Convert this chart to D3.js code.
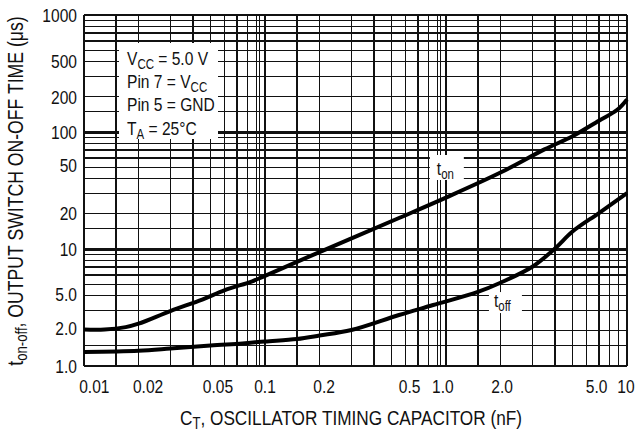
<!DOCTYPE html>
<html>
<head>
<meta charset="utf-8">
<script src="https://cdn.jsdelivr.net/npm/d3@7"></script>
<style>
  body { margin: 0; background: #fff; }
  text { font-family: "Liberation Sans", Arial, sans-serif; fill: #111; }
</style>
</head>
<body>
<svg id="chart" width="641" height="432"></svg>
<script>
// t_on curve (CT in nF, time in us)
const capOn = [0.01, 0.013, 0.017, 0.02, 0.03, 0.045, 0.06, 0.085, 0.1, 0.2, 0.55, 1.0, 2.0, 3.5, 5.0, 7.0, 8.8, 10];
const tOn = [2.05, 2.05, 2.15, 2.3, 2.95, 3.7, 4.45, 5.3, 5.9, 9.4, 18.4, 27.5, 45, 71, 92, 125, 154, 190];
// t_off curve
const capOff = [0.01, 0.02, 0.03, 0.05, 0.075, 0.1, 0.15, 0.2, 0.3, 0.55, 0.85, 1.5, 2.0, 3.0, 4.0, 5.0, 7.0, 10];
const tOff = [1.32, 1.35, 1.41, 1.5, 1.56, 1.62, 1.7, 1.82, 2.03, 2.73, 3.32, 4.3, 5.15, 7.05, 10.1, 14.1, 20.3, 30];

// tick labels and where they sit on the printed grid
const xTickLabels = ["0.01", "0.02", "0.05", "0.1", "0.2", "0.5", "1.0", "2.0", "5.0", "10"];
const xTickAt = [0.0114, 0.0226, 0.055, 0.1, 0.212, 0.63, 0.96, 2.04, 6.8, 9.87];
const yTickLabels = ["1000", "500", "200", "100", "50", "20", "10", "5.0", "2.0", "1.0"];
const yTickAt = [1000, 404, 199, 100, 52, 20.3, 10, 4.12, 2.09, 1];

const gridSteps = [1, 1.5, 2, 3, 4, 5, 6, 7, 8, 9];
const xDecades = [0.01, 0.1, 1];
const yDecades = [1, 10, 100];
const xDoubled = [0.093, 0.93];
const yDoubled = [9.8, 97];

const narrow = 0.82; // squeeze Liberation Sans to look like the condensed face

const svg = d3.select('#chart');

const x = d3.scaleLog().domain([0.01, 10]).range([84, 627]);
const y = d3.scaleLog().domain([1, 1000]).range([366, 15]);

const xGrid = xDecades.flatMap(d => gridSteps.map(s => d * s)).concat([10], xDoubled);
const yGrid = yDecades.flatMap(d => gridSteps.map(s => d * s)).concat([1000], yDoubled);

const grid = svg.append('g')
    .attr('stroke', '#111')
    .attr('stroke-width', 1.3)
    .attr('shape-rendering', 'crispEdges');
grid.selectAll('line.v').data(xGrid).join('line')
    .attr('class', 'v')
    .attr('x1', d => x(d)).attr('x2', d => x(d))
    .attr('y1', y(1000)).attr('y2', y(1));
grid.selectAll('line.h').data(yGrid).join('line')
    .attr('class', 'h')
    .attr('x1', x(0.01)).attr('x2', x(10))
    .attr('y1', d => y(d)).attr('y2', d => y(d));

// conditions box
svg.append('rect')
    .attr('x', 119).attr('y', 43)
    .attr('width', 99).attr('height', 96)
    .attr('fill', '#fff');

function subText(g, px, py, parts, size, anchor) {
    const t = g.append('text')
        .attr('transform', `translate(${px},${py}) scale(${narrow},1)`)
        .attr('text-anchor', anchor || 'start')
        .style('font-size', size + 'px');
    let shift = 0;
    parts.forEach(p => {
        const dy = (p.sub ? 4 : 0) - shift;
        shift = p.sub ? 4 : 0;
        t.append('tspan')
            .attr('dy', dy)
            .style('font-size', p.sub ? Math.round(size * 0.74) + 'px' : null)
            .text(p.t);
    });
    return t;
}

const legend = svg.append('g');
subText(legend, 127, 65, [{t: 'V'}, {t: 'CC', sub: true}, {t: ' = 5.0 V'}], 19);
subText(legend, 127, 88, [{t: 'Pin 7 = V'}, {t: 'CC', sub: true}], 19);
subText(legend, 127, 111, [{t: 'Pin 5 = GND'}], 19);
subText(legend, 127, 135, [{t: 'T'}, {t: 'A', sub: true}, {t: ' = 25°C'}], 19);

// curve labels
svg.append('rect')
    .attr('x', x(0.89) - 7).attr('y', y(42.9) - 20)
    .attr('width', 34).attr('height', 25)
    .attr('fill', '#fff');
svg.append('rect')
    .attr('x', x(1.84) - 5).attr('y', y(3.19) - 15)
    .attr('width', 33).attr('height', 21)
    .attr('fill', '#fff');

const line = d3.line()
    .x(d => x(d[0]))
    .y(d => y(d[1]))
    .curve(d3.curveCatmullRom.alpha(0.5));
svg.append('path')
    .datum(d3.zip(capOn, tOn))
    .attr('d', line)
    .attr('fill', 'none')
    .attr('stroke', '#000')
    .attr('stroke-width', 4);
svg.append('path')
    .datum(d3.zip(capOff, tOff))
    .attr('d', line)
    .attr('fill', 'none')
    .attr('stroke', '#000')
    .attr('stroke-width', 4);

const lbl = svg.append('g');
subText(lbl, x(0.89), y(42.9), [{t: 't'}, {t: 'on', sub: true}], 19);
subText(lbl, x(1.84), y(3.19), [{t: 't'}, {t: 'off', sub: true}], 19);

// tick labels
const yLab = svg.append('g');
yTickLabels.forEach((d, i) => subText(yLab, 77, y(yTickAt[i]) + 6.5, [{t: d}], 19, 'end'));
const xLab = svg.append('g');
xTickLabels.forEach((d, i) => subText(xLab, x(xTickAt[i]), 393, [{t: d}], 19, 'middle'));

// axis titles
subText(svg.append('g'), 351, 425,
    [{t: 'C'}, {t: 'T', sub: true}, {t: ', OSCILLATOR TIMING CAPACITOR (nF)'}], 21, 'middle');

const yt = svg.append('g')
    .attr('transform', 'translate(23,191) rotate(-90)');
subText(yt, 0, 0, [{t: 't'}, {t: 'on-off', sub: true}, {t: ', OUTPUT SWITCH ON-OFF TIME (μs)'}], 21.5, 'middle');
</script>
</body>
</html>
